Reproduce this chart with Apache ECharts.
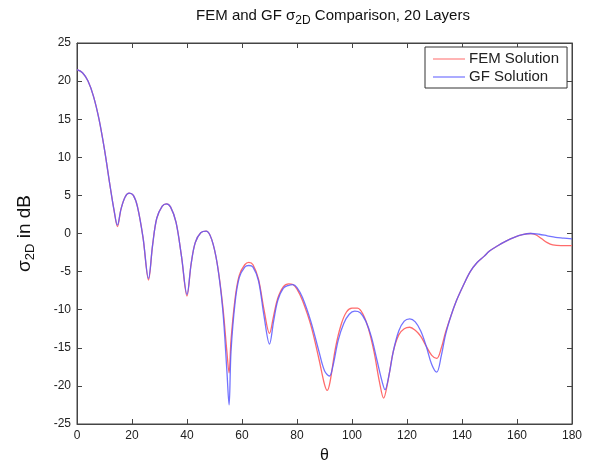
<!DOCTYPE html>
<html>
<head>
<meta charset="utf-8">
<script src="https://cdn.jsdelivr.net/npm/echarts@6/dist/echarts.min.js"></script>
<style>
  html, body { margin: 0; padding: 0; background: #fff; }
  #chart { width: 598px; height: 465px; }
</style>
</head>
<body>
<div id="chart"></div>
<script>
// values
const femTheta = [0, 2, 4, 6, 8, 10, 12, 13.5, 14.7, 16, 17.5, 19, 20.5, 22, 24, 26, 27.5, 29, 31, 32.5,
  34, 36, 38, 40, 41.5, 43, 45, 47, 49, 51, 53, 54.5, 55.3, 56, 57.5, 59, 61, 62.5, 64, 66, 68, 70,
  71.5, 73, 75, 77, 78.5, 80, 82, 85, 88, 90, 91, 92, 94, 96, 98, 100, 102, 104, 106, 108, 110, 111.5,
  113, 115, 117, 119, 121, 123, 125, 127, 129, 130.8, 132.5, 134, 136, 138, 140.5, 143, 145.5, 148,
  150, 153, 156, 159, 162, 165, 167, 169, 171, 173, 176, 180];
const femDb = [21.5, 21.1, 20.0, 18.0, 15.0, 11.0, 6.3, 3.0, 0.9, 3.2, 4.8, 5.3, 5.0, 3.5, -0.5, -6.1, -1.5, 2.0, 3.6, 3.9,
  3.5, 1.5, -3.0, -8.2, -4.0, -1.2, 0.1, 0.3, -0.8, -4.0, -9.5, -15.5, -18.3, -14.0, -8.5, -5.5, -4.1, -3.8, -4.1, -6.0, -10.0, -13.1,
  -10.8, -8.5, -7.0, -6.6, -6.7, -7.3, -8.8, -12.0, -16.5, -19.8, -20.6, -19.5, -15.0, -12.0, -10.3, -9.8, -9.8, -10.6, -12.5, -15.5, -19.5, -21.6,
  -19.5, -15.5, -13.3, -12.5, -12.3, -12.7, -13.5, -14.8, -16.0, -16.4, -15.0, -13.0, -10.8, -8.8, -6.8, -5.0, -3.8, -3.0,
  -2.3, -1.6, -1.0, -0.5, -0.15, 0.0, -0.2, -0.7, -1.2, -1.5, -1.6, -1.6];

const gfTheta = [0, 2, 4, 6, 8, 10, 12, 13.5, 14.7, 16, 17.5, 19, 20.5, 22, 24, 26, 27.5, 29, 31, 32.5,
  34, 36, 38, 40, 41.5, 43, 45, 47, 49, 51, 53, 54.5, 55.3, 56, 57.5, 59, 61, 62.5, 64, 66, 68, 70,
  71.5, 73, 75, 77, 78.5, 80, 82, 85, 88, 90, 91.8, 93, 95, 97, 99, 101, 103, 105, 107, 109, 111, 112,
  113.5, 115, 117, 119, 121, 123, 125, 127, 129, 130.8, 132.5, 134, 136, 138, 140.5, 143, 145.5, 148,
  150, 153, 156, 159, 162, 165, 168, 171, 174, 177, 180];
const gfDb = [21.5, 21.1, 20.0, 18.0, 15.0, 11.0, 6.3, 3.0, 1.1, 3.2, 4.8, 5.3, 5.0, 3.5, -0.5, -5.9, -1.5, 2.0, 3.6, 3.9,
  3.5, 1.5, -3.0, -8.0, -4.0, -1.2, 0.1, 0.3, -0.8, -4.0, -10.0, -18.0, -22.5, -15.5, -9.0, -5.8, -4.4, -4.2, -4.4, -6.2, -10.8, -14.5,
  -11.5, -8.8, -7.2, -6.8, -6.7, -7.1, -8.4, -11.5, -15.5, -18.0, -18.7, -17.5, -14.0, -11.8, -10.6, -10.2, -10.4, -11.5, -13.5, -16.5, -19.5, -20.5,
  -18.5, -15.5, -12.8, -11.5, -11.2, -11.6, -12.8, -14.8, -17.2, -18.2, -16.0, -13.3, -10.8, -8.8, -6.8, -5.0, -3.8, -3.0,
  -2.3, -1.6, -1.0, -0.5, -0.15, 0.0, -0.1, -0.3, -0.5, -0.6, -0.7];

const font = 'Liberation Sans, Arial, Helvetica, sans-serif';
const pairs = (xs, ys) => xs.map((x, i) => [x, ys[i]]);

const chart = echarts.init(document.getElementById('chart'), null, { renderer: 'canvas' });

const axisLine = { show: true, onZero: false, lineStyle: { color: '#444', width: 1 } };
const tick = { show: true, inside: true, length: 5, lineStyle: { color: '#444' } };

const option = {
  animation: false,
  backgroundColor: '#fff',
  title: {
    text: '{a|FEM and GF σ}{s|2D}{a| Comparison, 20 Layers}',
    left: 328,
    textAlign: 'center',
    top: 0,
    textStyle: {
      fontWeight: 'normal',
      rich: {
        a: { fontFamily: font, fontSize: 15, color: '#111', fontWeight: 'normal' },
        s: { fontFamily: font, fontSize: 12, color: '#111', fontWeight: 'normal', padding: [10, 0, 0, 0] }
      }
    }
  },
  legend: {
    orient: 'vertical',
    left: 425,
    top: 47,
    icon: 'rect',
    itemWidth: 32,
    itemHeight: 1.5,
    itemGap: 0,
    padding: [3, 8, 2, 8],
    borderColor: '#333',
    borderWidth: 1,
    backgroundColor: '#fff',
    textStyle: { fontFamily: font, fontSize: 15, lineHeight: 18, color: '#222', padding: [0, 0, 0, -1] },
    data: ['FEM Solution', 'GF Solution']
  },
  grid: { left: 77, right: 26, top: 43, bottom: 41, outerBoundsMode: 'none', show: true, borderColor: '#444', borderWidth: 1 },
  xAxis: [{
    type: 'value', min: 0, max: 180, interval: 20,
    name: 'θ', nameLocation: 'middle', nameGap: 24,
    nameTextStyle: { fontFamily: font, fontSize: 16, color: '#111' },
    axisLine, axisTick: tick, splitLine: { show: false },
    axisLabel: { fontFamily: font, fontSize: 12, color: '#222', margin: 6 }
  }, {
    type: 'value', min: 0, max: 180, interval: 20, position: 'top',
    axisLine, axisTick: tick, axisLabel: { show: false }, splitLine: { show: false }
  }],
  yAxis: [{
    type: 'value', min: -25, max: 25, interval: 5,
    name: '{a|σ}{s|2D}{a| in dB}', nameLocation: 'middle', nameGap: 40, nameRotate: 90,
    nameTextStyle: {
      rich: {
        a: { fontFamily: font, fontSize: 19, color: '#111' },
        s: { fontFamily: font, fontSize: 13, color: '#111', padding: [11, 0, 0, 0] }
      }
    },
    axisLine, axisTick: tick, splitLine: { show: false },
    axisLabel: { fontFamily: font, fontSize: 12, color: '#222', margin: 6 }
  }, {
    type: 'value', min: -25, max: 25, interval: 5, position: 'right',
    axisLine, axisTick: tick, axisLabel: { show: false }, splitLine: { show: false }
  }],
  series: [{
    name: 'FEM Solution', type: 'line', smooth: 0.35, symbol: 'none',
    data: pairs(femTheta, femDb),
    lineStyle: { color: '#ff6b6b', width: 1.3 },
    itemStyle: { color: '#ff9b9b' },
    z: 2
  }, {
    name: 'GF Solution', type: 'line', smooth: 0.35, symbol: 'none',
    data: pairs(gfTheta, gfDb),
    lineStyle: { color: '#5a5aff', width: 1.3, opacity: 0.85 },
    itemStyle: { color: '#8f8fff' },
    z: 3
  }]
};

chart.setOption(option);
</script>
</body>
</html>
